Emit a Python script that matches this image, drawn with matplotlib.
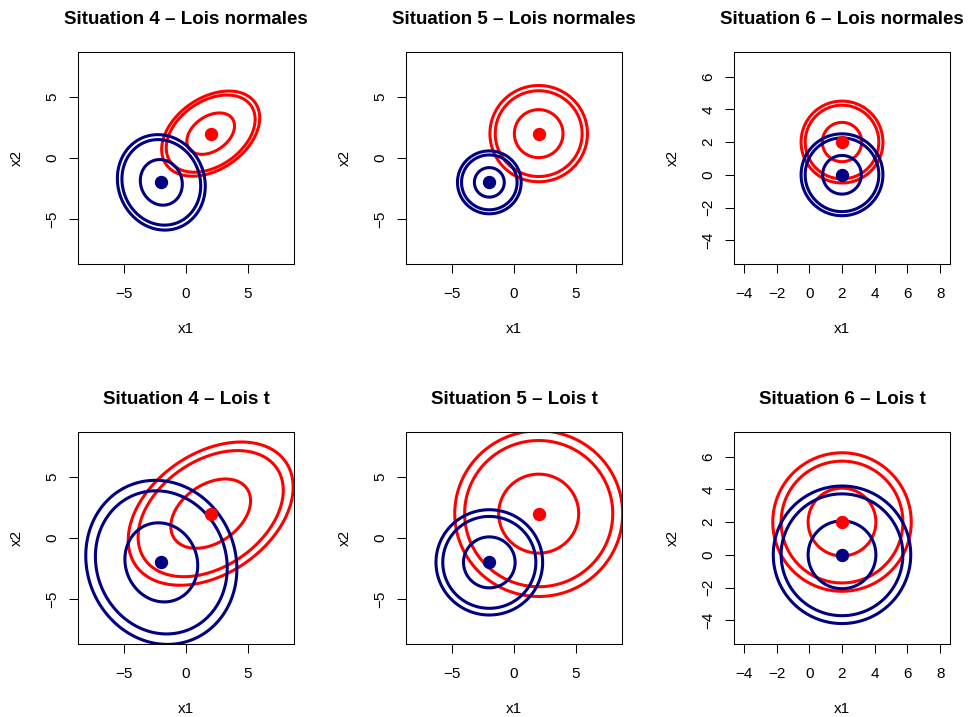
import matplotlib
matplotlib.use("Agg")
import matplotlib.pyplot as plt
from matplotlib.patches import Polygon
import numpy as np

plt.rcParams['font.family'] = ['Liberation Sans', 'DejaVu Sans']

# Titres des six graphiques (ligne 1 : lois normales, ligne 2 : lois t)
titles = ["Situation 4 – Lois normales", "Situation 5 – Lois normales", "Situation 6 – Lois normales",
          "Situation 4 – Lois t", "Situation 5 – Lois t", "Situation 6 – Lois t"]

# Centres des deux groupes pour les situations 4, 5, 6
red_centres = [(2, 2), (2, 2), (2, 2)]
blue_centres = [(-2, -2), (-2, -2), (2, 0)]

# Forme des covariances : (écart-type x2 / écart-type x1, corrélation)
red_shape = [(0.88, 0.37), (1.0, 0.0), (1.0, 0.0)]
blue_shape = [(1.1, -0.08), (1.0, 0.0), (1.0, 0.0)]

# Demi-largeurs (selon x1) des trois contours de densité
red_normal_radii = [[1.93, 3.6, 3.97], [1.97, 3.52, 3.95], [1.2, 2.25, 2.5]]
blue_normal_radii = [[1.7, 3.19, 3.56], [1.21, 2.25, 2.58], [1.18, 2.25, 2.5]]
red_t_radii = [[3.23, 5.88, 6.68], [3.24, 6.0, 6.8], [2.07, 3.72, 4.23]]
blue_t_radii = [[2.95, 5.34, 6.12], [2.09, 3.77, 4.32], [2.07, 3.72, 4.2]]

# Bornes et graduations des axes
x_limits = [(-8.75, 8.75), (-8.75, 8.75), (-4.6, 8.6)]
y_limits = [(-8.7, 8.7), (-8.7, 8.7), (-5.45, 7.5)]
x_ticks = [[-5, 0, 5], [-5, 0, 5], [-4, -2, 0, 2, 4, 6, 8]]
y_ticks = [[-5, 0, 5], [-5, 0, 5], [-4, -2, 0, 2, 4, 6]]

RED = '#FF0000'
BLUE = '#000080'


def draw_contours(ax, centre, shape, radii, color):
    ratio, rho = shape
    cov = np.array([[1.0, rho * ratio], [rho * ratio, ratio ** 2]])
    L = np.linalg.cholesky(cov)
    t = np.linspace(0, 2 * np.pi, 400, endpoint=False)
    circle = np.vstack([np.cos(t), np.sin(t)])
    for r in radii:
        pts = r * (L @ circle)
        xy = np.column_stack([centre[0] + pts[0], centre[1] + pts[1]])
        ax.add_patch(Polygon(xy, closed=True, fill=False, edgecolor=color, linewidth=2.2))
    ax.plot(centre[0], centre[1], 'o', color=color, markersize=8.6)


fig = plt.figure(figsize=(9.68, 7.17), dpi=100)
W, H = 968, 717
col_left = [78, 406, 734]
row_top = [52, 432]
box_w, box_h = 216, 212

for row in range(2):
    for col in range(3):
        ax = fig.add_axes([col_left[col] / W, 1 - (row_top[row] + box_h) / H, box_w / W, box_h / H])
        if row == 0:
            red_r, blue_r = red_normal_radii[col], blue_normal_radii[col]
        else:
            red_r, blue_r = red_t_radii[col], blue_t_radii[col]
        draw_contours(ax, red_centres[col], red_shape[col], red_r, RED)
        draw_contours(ax, blue_centres[col], blue_shape[col], blue_r, BLUE)

        ax.set_xlim(x_limits[col])
        ax.set_ylim(y_limits[col])
        ax.set_xticks(x_ticks[col])
        ax.set_yticks(y_ticks[col])
        ax.tick_params(direction='out', length=6.5, width=0.75, labelsize=11)
        ax.tick_params(axis='x', pad=10)
        ax.tick_params(axis='y', pad=7, labelrotation=90)
        for lbl in ax.get_yticklabels():
            lbl.set_va('center')
        for sp in ax.spines.values():
            sp.set_linewidth(0.75)
        ax.set_title(titles[row * 3 + col], fontsize=13.5, fontweight='bold', pad=20)
        ax.set_xlabel('x1', fontsize=11, labelpad=15)
        ax.set_ylabel('x2', fontsize=11, labelpad=15.5)

fig.savefig('out.png', dpi=100)
